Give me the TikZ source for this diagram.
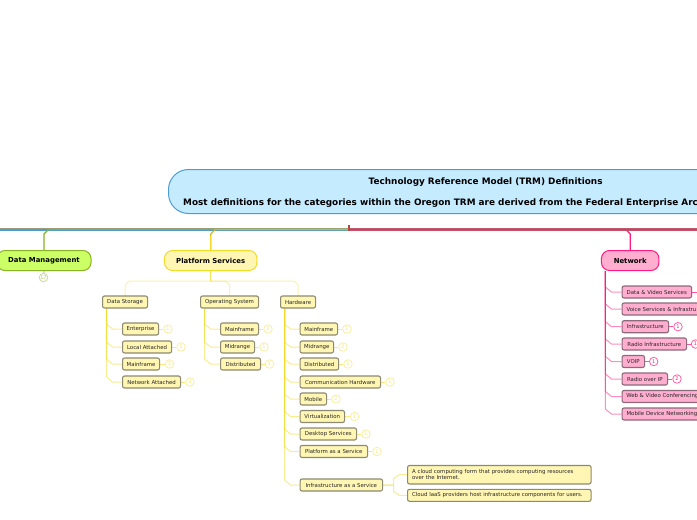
\documentclass[tikz,border=0pt]{standalone}
\usepackage{fontspec}
\setmainfont{DejaVu Sans}
\usetikzlibrary{calc,backgrounds}
\definecolor{ttl}{HTML}{C5EBFF}
\definecolor{ttlb}{HTML}{4C9CD6}
\definecolor{grn}{HTML}{CCFF66}
\definecolor{grnb}{HTML}{88B322}
\definecolor{ylw}{HTML}{FFF6B3}
\definecolor{ylwb}{HTML}{F2DC28}
\definecolor{pnk}{HTML}{FFAED0}
\definecolor{pnkb}{HTML}{FF1C80}
\definecolor{boxb}{HTML}{8C8A70}
\definecolor{pboxb}{HTML}{8C6A7C}
\definecolor{busgray}{HTML}{9A9C80}
\definecolor{busbase}{HTML}{BE5A72}
\definecolor{busmid}{HTML}{A04A9A}
\definecolor{bustop}{HTML}{C8506A}
\definecolor{busylw}{HTML}{C9BC2E}
\definecolor{hubred}{HTML}{B5483A}
\tikzset{
  topbox/.style={draw,line width=1pt,rounded corners=8pt,minimum height=20pt,inner sep=0pt,font=\fontsize{6.9}{8}\selectfont\bfseries,text=black},
  ybox/.style={draw=boxb,fill=ylw,line width=1.1pt,rounded corners=2pt,minimum height=12pt,inner sep=0pt,anchor=west,font=\fontsize{5.4}{6.5}\selectfont,text=black!85},
  pbox/.style={ybox,draw=pboxb,fill=pnk},
  ycount/.style={circle,draw=ylwb!45,fill=white,line width=.8pt,minimum size=8.5pt,inner sep=0pt,text=ylwb!70,font=\fontsize{5}{5}\selectfont},
  pcount/.style={ycount,draw=pnkb!70,text=pnkb},
  gcount/.style={ycount,draw=grnb!45,text=grnb!70},
  ylink/.style={draw=ylwb,line width=1pt,opacity=.5,line join=round},
  ydrop/.style={draw=ylwb,line width=1pt,opacity=.36,line join=round},
  plink/.style={draw=pnkb,line width=1pt,opacity=.5,line join=round},
  ystem/.style={draw=ylwb!60,line width=1pt},
  pstem/.style={draw=pnkb!75,line width=1pt},
  gstem/.style={draw=grnb!60,line width=1pt},
  ttltext/.style={anchor=base west,inner sep=0pt,font=\fontsize{8.88}{10}\selectfont\bfseries,text=black},
}
% branch from a parent's trunk to a child: parent, child, style
\newcommand{\branchto}[3]{%
  \draw[#3] let \p1=($(#1.south west)+(4.5pt,0)$),\p2=(#2.west) in
    (\x1,\y1) -- (\x1,\y2+5pt) -- (\x1+6pt,\y2) -- (#2.west);}
% drop from a parent's underside to a child's top: parent, child, sign of bend
\newcommand{\dropto}[3]{%
  \draw[ydrop] let \p1=(#1.south),\p2=(#2.north) in
    (\x1,\y1) -- (\x1,\y1-10pt) -- (\x2#34pt,\y1-10pt) -- (\x2,\y1-14pt) -- (#2.north);}
% main bus to a top node: node, colour, sign of bend
\newcommand{\busto}[3]{%
  \draw[draw=#2,line width=1.3pt,line join=round] let \p1=(#1.north),\p2=(hub) in
    (hub) -- (\x1#34.5pt,\y2) -- (\x1,\y2-4.5pt) -- (#1.north);}
\begin{document}
\begin{tikzpicture}[x=1pt,y=-1pt]
\useasboundingbox (0,0) rectangle (697,520);
\clip (0,0) rectangle (697,520);
% title
\node[draw=ttlb,fill=ttl,line width=1pt,rounded corners=20pt,minimum width=640pt,minimum height=44pt,anchor=west,inner sep=0pt] (title) at (168,191.5) {};
\node[ttltext] (tl1) at (368.5,184.5) {Technology Reference Model (TRM) Definitions};
\node[ttltext] (tl2) at (183,205.5) {Most definitions for the categories within the Oregon TRM are derived from the Federal Enterprise Arc};
% centre
\coordinate (hub) at (349,229.5);
\coordinate (hubtop) at (349,225);
\coordinate (hubbot) at (349,231);
\coordinate (offl) at (-5,229.5);
\coordinate (offr) at (705,229.5);
% top nodes
\node[topbox,draw=grnb,fill=grn,minimum width=94pt] (dm) at (44,260.5) {Data Management};
\node[topbox,draw=ylwb,fill=ylw,minimum width=92.5pt] (ps) at (210.7,260.5) {Platform Services};
\node[topbox,draw=pnkb,fill=pnk,minimum width=57.5pt] (nw) at (630.2,260.5) {Network};
% second level
\node[ybox,minimum width=45pt] (ds) at (102,302) {Data Storage};
\node[ybox,minimum width=58pt] (os) at (200,302) {Operating System};
\node[ybox,minimum width=35pt] (hw) at (280,302) {Hardware};
% data storage
\node[ybox,minimum width=36pt] (d1) at (122,329) {Enterprise};
\node[ybox,minimum width=49pt] (d2) at (122,347) {Local Attached};
\node[ybox,minimum width=37pt] (d3) at (122,364) {Mainframe};
\node[ybox,minimum width=58pt] (d4) at (122,382) {Network Attached};
\node[ycount] (cd1) at (168,329) {1};
\node[ycount] (cd2) at (181,347) {1};
\node[ycount] (cd3) at (169.5,364) {3};
\node[ycount] (cd4) at (190,382) {3};
% os
\node[ybox,minimum width=38pt] (o1) at (220,329) {Mainframe};
\node[ybox,minimum width=34pt] (o2) at (220,347) {Midrange};
\node[ybox,minimum width=40pt] (o3) at (220,364) {Distributed};
\node[ycount] (co1) at (268,329) {2};
\node[ycount] (co2) at (264,347) {1};
\node[ycount] (co3) at (269.5,364) {1};
% hardware
\node[ybox,minimum width=37.5pt] (h1) at (299.5,329) {Mainframe};
\node[ybox,minimum width=33.5pt] (h2) at (299.5,347) {Midrange};
\node[ybox,minimum width=38.5pt] (h3) at (299.5,364) {Distributed};
\node[ybox,minimum width=80.5pt] (h4) at (299.5,382) {Communication Hardware};
\node[ybox,minimum width=26.5pt] (h5) at (299.5,399) {Mobile};
\node[ybox,minimum width=44.5pt] (h6) at (299.5,416.5) {Virtualization};
\node[ybox,minimum width=56.5pt] (h7) at (299.5,434) {Desktop Services};
\node[ybox,minimum width=67.5pt] (h8) at (299.5,451.5) {Platform as a Service};
\node[ybox,minimum width=82.5pt] (h9) at (299.5,485) {Infrastructure as a Service};
\node[ycount] (ch1) at (347,329) {1};
\node[ycount] (ch2) at (343,347) {2};
\node[ycount] (ch3) at (348,364) {1};
\node[ycount] (ch4) at (390,382) {1};
\node[ycount] (ch5) at (336,399) {2};
\node[ycount] (ch6) at (354.5,416.5) {1};
\node[ycount] (ch7) at (366,434) {1};
\node[ycount] (ch8) at (377,451.5) {1};
\node[ybox,minimum width=183.5pt,minimum height=18.5pt,align=left,text width=174.5pt] (n1) at (407,474.7) {A cloud computing form that provides computing resources\\over the Internet.};
\node[ybox,minimum width=183.5pt,text width=174.5pt,align=left] (n2) at (407,495.3) {Cloud IaaS providers host infrastructure components for users.};
% network
\node[pbox,minimum width=69.5pt] (p1) at (621.5,292) {Data \& Video Services};
\node[pbox,minimum width=96pt,text width=87pt,align=left] (p2) at (621.5,309) {Voice Services \& Infrastru};
\node[pbox,minimum width=46.5pt] (p3) at (621.5,326.7) {Infrastructure};
\node[pbox,minimum width=64.5pt] (p4) at (621.5,344) {Radio Infrastructure};
\node[pbox,minimum width=22.5pt] (p5) at (621.5,361.5) {VOIP};
\node[pbox,minimum width=45.5pt] (p6) at (621.5,379) {Radio over IP};
\node[pbox,inner xsep=4.2pt] (p7) at (621.5,396.5) {\makebox[71.5pt][l]{Web \& Video Conferencing}};
\node[pbox,minimum width=82pt,text width=73pt,align=left] (p8) at (621.5,414) {Mobile Device Networking};
\node[pcount] (cp3) at (678,326.7) {1};
\node[pcount] (cp4) at (695.5,344) {1};
\node[pcount] (cp5) at (653.7,361.5) {1};
\node[pcount] (cp6) at (677,379) {2};
\node[gcount] (cdm) at (43.5,277.5) {17};
\coordinate (p1off) at (705,292);
% connectors, under the nodes
\begin{pgfonlayer}{background}
\fill[white] (-1,-1) rectangle (698,521);
% main bus: the branches that leave the page, then the named ones
\draw[draw=busgray,line width=1.5pt] ([yshift=.8pt]hub) -- ([yshift=.8pt]offl);
\draw[draw=ttlb,line width=1.3pt] ([yshift=-.4pt]hub) -- ([yshift=-.4pt]offl);
\busto{nw}{pnkb}{-}
\draw[draw=busbase,line width=2.8pt] (hub) -- (offr);
\draw[draw=busmid,line width=1.3pt] (hub) -- (offr);
\draw[draw=bustop,line width=.8pt] ([yshift=-.9pt]hub) -- ([yshift=-.9pt]offr);
\busto{dm}{grnb}{+}
\busto{ps}{busylw}{+}
\draw[draw=ylwb,line width=1.3pt] (ps.north) -- ++(0,-14);
\fill[hubred] ([xshift=-1pt]hubtop) rectangle ([xshift=1pt]hubbot);
% platform services
\dropto{ps}{ds}{+}
\dropto{ps}{os}{-}
\dropto{ps}{hw}{-}
\foreach \c in {d1,d2,d3,d4} {\branchto{ds}{\c}{ylink}}
\foreach \c in {o1,o2,o3} {\branchto{os}{\c}{ylink}}
\foreach \c in {h1,h2,h3,h4,h5,h6,h7,h8,h9} {\branchto{hw}{\c}{ylink}}
\foreach \a/\b in {d1/cd1,d2/cd2,d3/cd3,d4/cd4,o1/co1,o2/co2,o3/co3,h1/ch1,h2/ch2,h3/ch3,h4/ch4,h5/ch5,h6/ch6,h7/ch7,h8/ch8} {\draw[ystem] (\a.east) -- (\b);}
% notes
\draw[ylink] let \p1=(h9.east),\p2=(n1.west) in (h9.east) -- (\x1+10.5pt,\y1) -- (\x1+10.5pt,\y2-4pt) -- (\x1+16pt,\y2) -- (n1.west);
\draw[ylink] let \p1=(h9.east),\p2=(n2.west) in (h9.east) -- (\x1+10.5pt,\y1) -- (\x1+10.5pt,\y2+4pt) -- (\x1+16pt,\y2) -- (n2.west);
% network
\foreach \c in {p1,p2,p3,p4,p5,p6,p7,p8} {\branchto{nw}{\c}{plink}}
\foreach \a/\b in {p3/cp3,p4/cp4,p5/cp5,p6/cp6} {\draw[pstem] (\a.east) -- (\b);}
\draw[pstem] (p1.east) -- (p1off);
% data management
\draw[gstem] (dm.south) -- (cdm);
\end{pgfonlayer}
\end{tikzpicture}
\end{document}
